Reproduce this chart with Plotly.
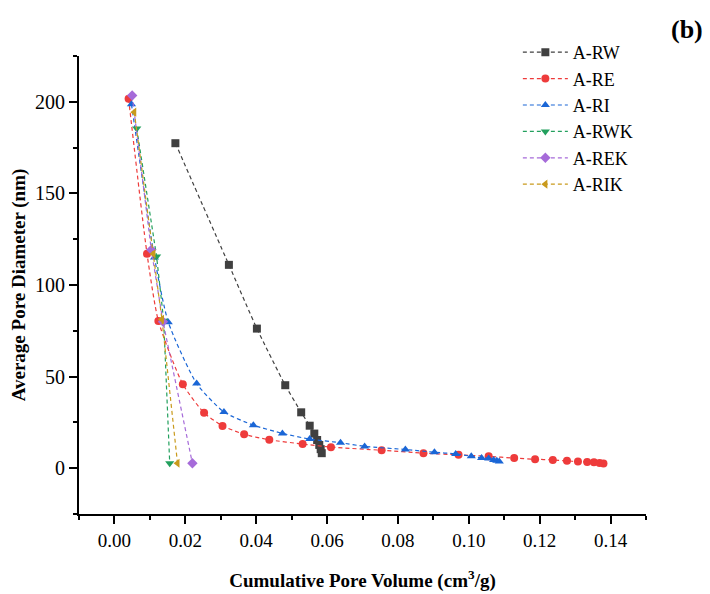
import plotly.graph_objects as go

# cumulative pore volume (cm3/g) and average pore diameter (nm)
rw_x = [0.0172, 0.0323, 0.0402, 0.0482, 0.0527, 0.0551, 0.0564, 0.0572, 0.0578, 0.0582, 0.0585]
rw_y = [177.4, 111.0, 76.2, 45.3, 30.5, 23.2, 18.9, 15.4, 12.7, 10.4, 8.2]

re_x = [0.0040, 0.0092, 0.0124, 0.0193, 0.0253, 0.0305, 0.0366, 0.0437, 0.0531, 0.0611, 0.0754,
        0.0872, 0.0971, 0.1056, 0.1128, 0.1187, 0.1237, 0.1277, 0.1308, 0.1334, 0.1353, 0.1369, 0.1380]
re_y = [201.6, 117.0, 80.4, 45.8, 30.2, 23.1, 18.5, 15.5, 13.2, 11.5, 9.8,
        8.2, 7.3, 6.5, 5.5, 4.9, 4.5, 4.0, 3.6, 3.4, 3.3, 2.9, 2.5]

ri_x = [0.0048, 0.0113, 0.0152, 0.0232, 0.0309, 0.0392, 0.0474, 0.0551, 0.0638, 0.0706,
        0.0821, 0.0903, 0.0963, 0.1007, 0.1036, 0.1056, 0.1070, 0.1079, 0.1086]
ri_y = [198.7, 115.0, 79.7, 46.2, 30.7, 23.5, 19.0, 15.9, 13.9, 11.9,
        10.2, 8.7, 7.8, 6.5, 5.6, 5.3, 4.5, 4.0, 3.6]

rwk_x = [0.0063, 0.0119, 0.0139, 0.0156]
rwk_y = [185.4, 115.5, 80.5, 2.7]

rek_x = [0.0050, 0.0104, 0.0137, 0.0220]
rek_y = [203.4, 119.2, 80.0, 2.7]

rik_x = [0.0056, 0.0110, 0.0134, 0.0178]
rik_y = [194.3, 117.0, 81.3, 2.7]

series = [
    ("A-RW", rw_x, rw_y, "#404040", "square", "spline"),
    ("A-RE", re_x, re_y, "#ee3b3b", "circle", "spline"),
    ("A-RI", ri_x, ri_y, "#1a66d6", "triangle-up", "spline"),
    ("A-RWK", rwk_x, rwk_y, "#23a05e", "triangle-down", "linear"),
    ("A-REK", rek_x, rek_y, "#a66bd9", "diamond", "linear"),
    ("A-RIK", rik_x, rik_y, "#c99a1c", "triangle-left", "linear"),
]

fig = go.Figure()
for name, xs, ys, col, sym, shape in series:
    fig.add_trace(go.Scatter(
        x=xs, y=ys, name=name, mode="lines+markers",
        line=dict(color=col, width=1.2, dash="4px,3px", shape=shape, smoothing=0.6),
        marker=dict(color=col, symbol=sym, size=8),
    ))

font = "Liberation Serif, Times New Roman, serif"
fig.update_layout(
    width=710, height=594,
    margin=dict(l=79, r=64, t=56, b=80, autoexpand=False),
    plot_bgcolor="white", paper_bgcolor="white",
    font=dict(family=font, color="black", size=19),
    legend=dict(x=0.774, y=1.048, xanchor="left", yanchor="top",
                font=dict(size=18), itemwidth=45,
                bgcolor="rgba(0,0,0,0)"),
    annotations=[dict(text="<b>(b)</b>", x=1.104, y=1.057, xref="paper", yref="paper",
                      xanchor="right", yanchor="middle", showarrow=False,
                      font=dict(size=26, family=font))],
)
fig.update_xaxes(
    range=[-0.01, 0.15], dtick=0.02, tick0=0, tickformat=".2f",
    showline=True, linecolor="black", linewidth=2, showgrid=False, zeroline=False,
    ticks="outside", ticklen=8, tickwidth=1.5, tickcolor="black",
    tickfont=dict(size=19),
    minor=dict(dtick=0.01, ticks="outside", ticklen=4, tickcolor="black", tickwidth=1.5),
    title=dict(text="<b>Cumulative Pore Volume (cm<sup>3</sup>/g)</b>", font=dict(size=19), standoff=24),
)
fig.update_yaxes(
    range=[-25, 225], dtick=50, tick0=0,
    showline=True, linecolor="black", linewidth=2, showgrid=False, zeroline=False,
    ticks="outside", ticklen=8, tickwidth=1.5, tickcolor="black",
    tickfont=dict(size=20),
    minor=dict(dtick=25, ticks="outside", ticklen=4, tickcolor="black", tickwidth=1.5),
    title=dict(text="<b>Average Pore Diameter (nm)</b>", font=dict(size=19), standoff=4),
)

# the page body has a default 8px margin; drop it so the figure fills the window
fig.write_html("out.html", config={"displayModeBar": False},
               post_script="document.body.style.margin='0px';")
